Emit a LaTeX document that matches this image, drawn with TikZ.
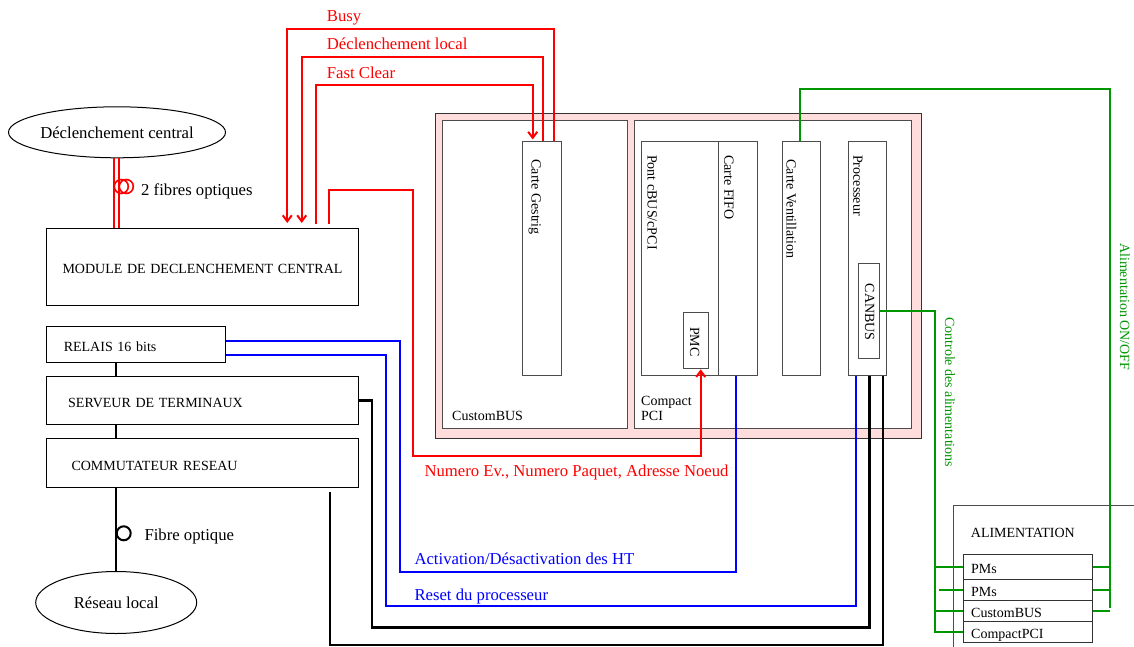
\documentclass[tikz,border=0pt]{standalone}
\usepackage{fontspec}
\setmainfont{Liberation Serif}
\usetikzlibrary{arrows.meta,shapes.geometric,calc}
\definecolor{rackpink}{RGB}{255,221,221}
\definecolor{grn}{RGB}{0,150,0}
\begin{document}
\begin{tikzpicture}[x=1pt,y=-1pt,
  big/.style={font=\fontsize{16.7}{20}\selectfont},
  sm/.style={font=\fontsize{14}{14.7}\selectfont},
  box/.style={draw, line width=1pt, inner sep=0pt, anchor=north west},
  capbox/.style={box, sm, text height=13.5pt, text depth=0pt, align=left},
  rowbox/.style={box, draw=black!80, sm, text height=13.5pt, text depth=0pt, align=left, inner xsep=7.4pt, text width=114.2pt},
  card/.style={draw=black!70, line width=1pt, fill=white, inner sep=0pt, anchor=north west},
  rot/.style={sm, rotate=-90, inner sep=0pt, anchor=base west},
  lbl/.style={inner sep=0pt, anchor=base west},
  sig/.style={line width=2pt},
  tip/.style={-{Straight Barb[length=6pt,width=9pt]}},
]
\useasboundingbox (0,0) rectangle (1134,647);

% ---- left column ----
\node[draw, ellipse, line width=1pt, minimum width=216pt, minimum height=51pt, inner sep=0pt, big] (dcentral) at (117,132.3) {Déclenchement central};
\node[capbox, minimum height=77pt, text width=312pt, align=center] (module) at (46,228) {MODULE DE DECLENCHEMENT CENTRAL};
\node[capbox, minimum height=35.7pt, inner xsep=17.3pt, text width=144.4pt] (relais) at (46,326) {RELAIS 16 bits};
\node[capbox, minimum height=48.6pt, inner xsep=21.7pt, text width=268.3pt] (serveur) at (46,375.7) {SERVEUR DE TERMINAUX};
\node[capbox, minimum height=49pt, inner xsep=25pt, text width=261.7pt] (commut) at (46,438.3) {COMMUTATEUR RESEAU};
\node[draw, ellipse, line width=1pt, minimum width=161pt, minimum height=62pt, inner sep=0pt, big] (reseau) at (116.2,602.5) {Réseau local};

% ---- rack ----
\node[draw=black!80, line width=1pt, fill=rackpink, inner sep=0pt, anchor=north west, minimum width=486pt, minimum height=325pt] (rack) at (435,113.3) {};
\node[card, minimum width=185.6pt, minimum height=307.7pt] (cbbox) at (441.7,120) {};
\node[card, minimum width=276.7pt, minimum height=307.7pt] (cpbox) at (634.3,120) {};
\node[lbl, sm] (cbl) at (452,420.7) {CustomBUS};
\node[sm, inner sep=0pt, anchor=south west, align=left] (cpl) at (641,420.7) {Compact\\PCI};

\node[card, minimum width=38.7pt, minimum height=234.3pt] (gestrig) at (522.3,141) {};
\node[rot] (gestrigT) at (531.7,159.3) {Carte Gestrig};
\node[card, minimum width=77pt, minimum height=234.3pt] (pont) at (641.3,141) {};
\node[rot] (pontT) at (647.7,155) {Pont cBUS/cPCI};
\node[card, minimum width=38.4pt, minimum height=234.3pt] (fifo) at (718.3,141) {};
\node[rot] (fifoT) at (724.3,155) {Carte FIFO};
\node[card, minimum width=38.3pt, minimum height=234.3pt] (vent) at (781.7,141) {};
\node[rot] (ventT) at (786.7,159.3) {Carte Ventillation};
\node[card, minimum width=38.3pt, minimum height=234.3pt] (proc) at (847.7,141) {};
\node[rot] (procT) at (853.3,155) {Processeur};
\node[card, minimum width=21pt, minimum height=95pt] (canbus) at (858.3,263.3) {};
\node[rot, anchor=center] (canbusT) at (869.6,312.3) {CANBUS};
\node[card, minimum width=24.4pt, minimum height=56pt] (pmc) at (683.3,312.3) {};
\node[rot, anchor=center] (pmcT) at (694.7,341.8) {PMC};

% ---- alimentation ----
\node[box, draw=black!70, minimum width=260pt, minimum height=200pt] (alim) at (952.7,505) {};
\node[lbl, sm] (alimT) at (970.7,537.3) {ALIMENTATION};
\node[rowbox, minimum height=24.7pt] (pm1) at (963.3,554) {PMs};
\node[rowbox, minimum height=21.3pt] (pm2) at (963.3,578.7) {PMs};
\node[rowbox, minimum height=21pt] (cbus) at (963.3,600) {CustomBUS};
\node[rowbox, minimum height=20.7pt] (cpci) at (963.3,621) {CompactPCI};

% ---- optical fibres ----
\coordinate (f1) at ([xshift=-3pt]dcentral.south);
\coordinate (f2) at ([xshift=2pt]dcentral.south);
\draw[red, line width=1.6pt] (f1) -- (f1 |- module.north) (f2) -- (f2 |- module.north);
\draw[red, line width=1.6pt] (121.3,186.5) circle[radius=7pt] (126.3,186.5) circle[radius=7pt];
\node[lbl, big] (fib2) at (141,196) {2 fibres optiques};

\draw[line width=2pt] (relais.south -| reseau.north) -- (serveur.north -| reseau.north);
\draw[line width=2pt] (serveur.south -| reseau.north) -- (commut.north -| reseau.north);
\draw[line width=2pt] (commut.south -| reseau.north) -- (reseau.north);
\draw[line width=2pt, fill=white] (123.7,533.3) circle[radius=7pt];
\node[lbl, big] (fib1) at (144.3,540) {Fibre optique};

% ---- red signals ----
\coordinate (bR) at (554,28.7); \coordinate (bL) at (287.3,28.7);
\draw[sig, red, tip, shorten >=5pt] (gestrig.north -| bR) -- (bR) -- (bL) -- (bL |- module.north);
\node[lbl, big, red] (busy) at (326.7,21.7) {Busy};
\coordinate (dR) at (543.3,56.7); \coordinate (dL) at (301.7,56.7);
\draw[sig, red, tip, shorten >=5pt] (gestrig.north -| dR) -- (dR) -- (dL) -- (dL |- module.north);
\node[lbl, big, red] (declo) at (326.7,50) {Déclenchement local};
\coordinate (fL) at (315.7,85); \coordinate (fR) at (532.7,85);
\draw[sig, red, tip, shorten <=4pt, shorten >=1.5pt] (fL |- module.north) -- (fL) -- (fR) -- (fR |- gestrig.north);
\node[lbl, big, red] (fast) at (326.7,78.3) {Fast Clear};
\coordinate (n1) at (329.3,190); \coordinate (n2) at (413.3,455.5); \coordinate (n3) at (700.7,455.5);
\draw[sig, red, tip, shorten <=4pt] (n1 |- module.north) -- (n1) -| (n2) -- (n3) -- (n3 |- pmc.south);
\node[lbl, big, red] (numero) at (424.3,476) {Numero Ev., Numero Paquet, Adresse Noeud};

% ---- blue signals ----
\coordinate (b1) at (400,571.7);
\draw[sig, blue] ([yshift=3.1pt]relais.east) -| (b1) -| ([xshift=-1.8pt]fifo.south);
\node[lbl, big, blue] (activ) at (414.3,564.3) {Activation/Désactivation des HT};
\coordinate (b2) at (385.7,606);
\draw[sig, blue] ([yshift=-10.2pt]relais.east) -| (b2) -| ([xshift=-11.8pt]proc.south);
\node[lbl, big, blue] (reset) at (414.3,600) {Reset du processeur};

% ---- black links ----
\coordinate (k1) at (371.7,627.3);
\draw[line width=2.4pt] (serveur.east) -| (k1) -| ([xshift=2pt]proc.south);
\coordinate (k2s) at (330,491.7); \coordinate (k2) at (330,645);
\draw[line width=2.4pt] (k2s) -- (k2) -| ([xshift=15.7pt]proc.south);

% ---- green links ----
\coordinate (g1) at (1110,89.3); \coordinate (g1b) at (1110,608.3);
\draw[sig, grn] ([xshift=-1.8pt]vent.north) |- (g1) -- (g1b);
\foreach \r in {pm1,pm2,cbus} \draw[sig, grn] (\r.east) -- (\r.east -| g1);
\node[rot, grn] (onoff) at (1120,243) {Alimentation ON/OFF};
\coordinate (g2) at (935,0); \coordinate (g2b) at (939.3,0);
\draw[sig, grn] (canbus.east) -| (cpci.west -| g2) -- (cpci.west);
\draw[sig, grn] (pm1.west -| g2) -- (pm1.west);
\draw[sig, grn] (cbus.west -| g2) -- (cbus.west);
\draw[sig, grn] (pm2.west -| g2b) -- (pm2.west);
\node[rot, grn] (ctl) at (945,317) {Controle des alimentations};
\end{tikzpicture}
\end{document}
